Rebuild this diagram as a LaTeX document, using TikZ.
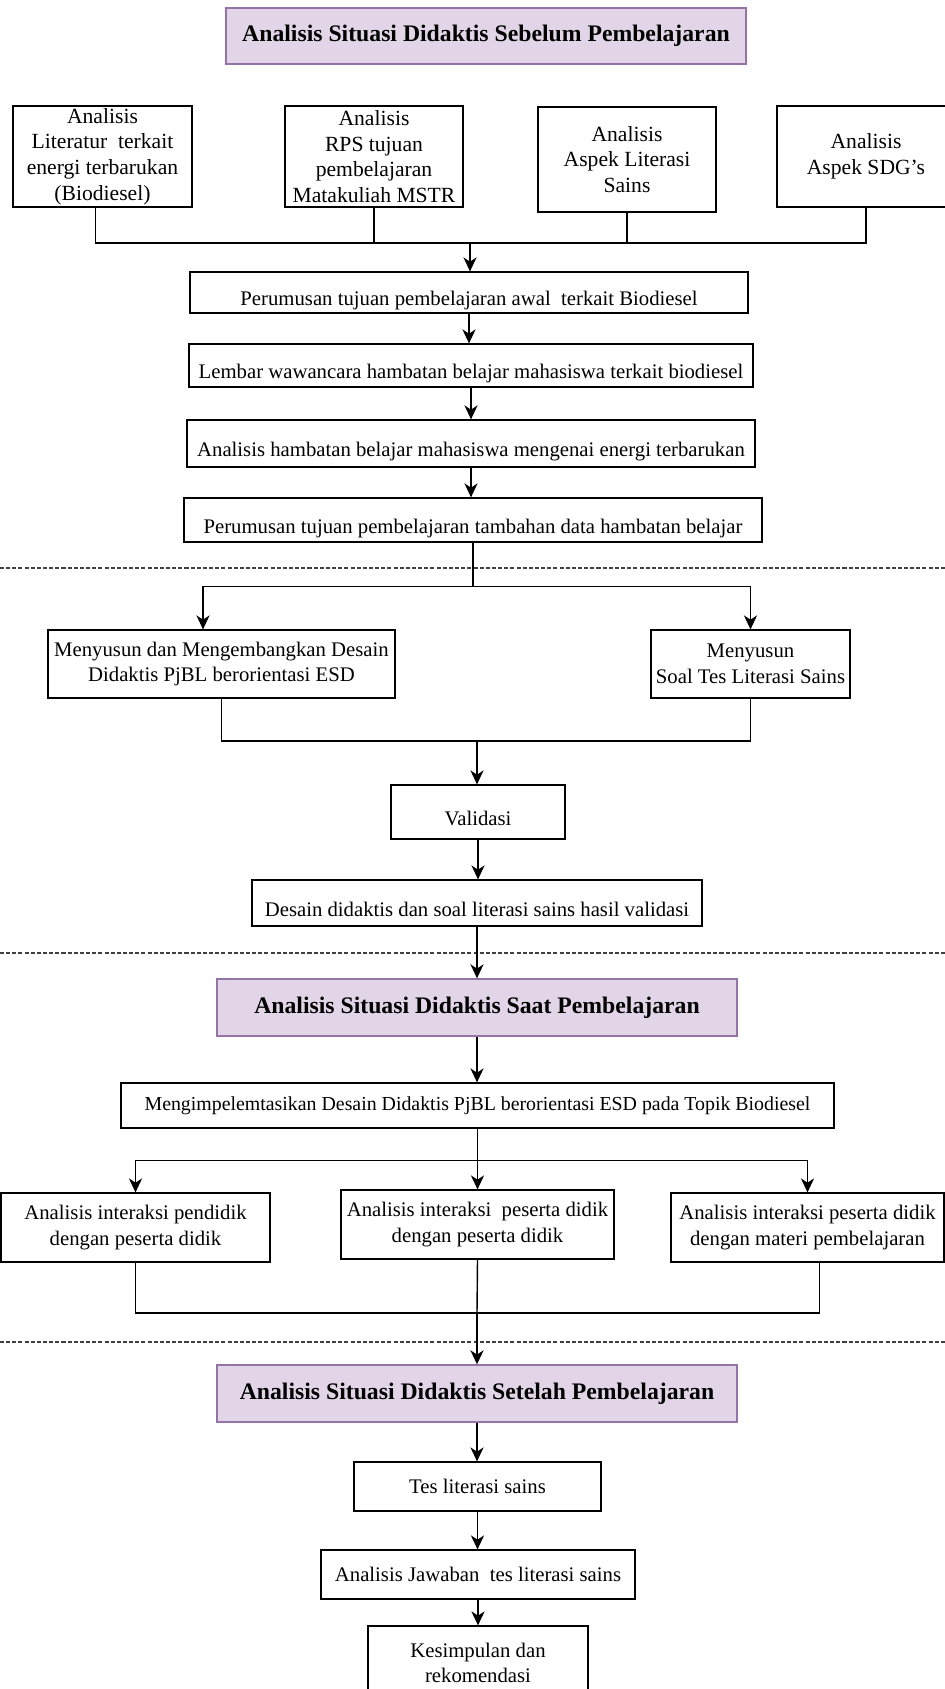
\documentclass[tikz,border=0pt]{standalone}
\usepackage{fontspec}
\setmainfont{Liberation Serif}
\usetikzlibrary{arrows.meta,calc}
\definecolor{titlefill}{HTML}{E1D5E7}
\definecolor{titleline}{HTML}{9673A6}
\tikzstyle{arrow} = [line width=0.8pt,-{Stealth[length=8pt,width=7.5pt,inset=2.5pt]}]
\tikzstyle{link} = [line width=0.8pt]
\tikzstyle{box} = [draw,line width=0.7pt,align=center,inner sep=1pt,font=\fontsize{11.8}{14.5}\selectfont]
\tikzstyle{lowtext} = [text height=17.5pt,text depth=2.6pt]
\tikzstyle{topbox} = [box,font=\fontsize{12.3}{14.6}\selectfont]
\tikzstyle{titlebox} = [draw=titleline,fill=titlefill,line width=0.8pt,inner sep=1pt,font=\fontsize{13.5}{16}\selectfont\bfseries]
\tikzstyle{divider} = [black!75,line width=0.7pt,dash pattern=on 2.3pt off 1.2pt]

\begin{document}
\begin{tikzpicture}[x=0.02cm,y=-0.02cm]
	\clip (0,0) rectangle (945,1689);

	% define constants
	\def \w {945}

	% before learning
	\node [titlebox,minimum width=10.4cm,minimum height=1.12cm] (t1) at (486,36) {Analisis Situasi Didaktis Sebelum Pembelajaran};

	\node [topbox,minimum width=3.58cm,minimum height=2.02cm] (a1) at (102.5,156.5) {Analisis\\Literatur~ terkait\\energi terbarukan\\(Biodiesel)};
	\node [topbox,minimum width=3.56cm,minimum height=2.02cm] (a2) at (374,156.5) {Analisis\\RPS tujuan\\pembelajaran\\Matakuliah MSTR};
	\node [topbox,minimum width=3.56cm,minimum height=2.10cm] (a3) at (627,159.5) {Analisis\\Aspek Literasi\\Sains};
	\node [topbox,minimum width=3.56cm,minimum height=2.02cm] (a4) at (866,156.5) {Analisis\\Aspek SDG’s};

	\node [box,lowtext,minimum width=11.16cm,minimum height=0.82cm] (p1) at (469,292.5) {Perumusan tujuan pembelajaran awal~ terkait Biodiesel};
	\node [box,lowtext,minimum width=11.28cm,minimum height=0.86cm] (p2) at (471,365.5) {Lembar wawancara hambatan belajar mahasiswa terkait biodiesel};
	\node [box,lowtext,minimum width=11.36cm,minimum height=0.94cm] (p3) at (471,443.5) {Analisis hambatan belajar mahasiswa mengenai energi terbarukan};
	\node [box,lowtext,minimum width=11.56cm,minimum height=0.88cm] (p4) at (473,520) {Perumusan tujuan pembelajaran tambahan data hambatan belajar};

	\coordinate (j1) at (470,243);
	\draw[link] ($(a1.south)+(-7,0)$) |- (j1);
	\foreach \n in {a2,a3,a4}
		\draw[link] (\n.south) |- (j1);
	\draw[arrow] (j1) -- (j1 |- p1.north);
	\draw[arrow] (p1) -- (p1 |- p2.north);
	\draw[arrow] (p2) -- (p2 |- p3.north);
	\draw[arrow] (p3) -- (p3 |- p4.north);

	\draw[divider] (0,568) -- (\w,568);

	% design and validation
	\node [box,minimum width=6.94cm,minimum height=1.36cm] (m1) at (221.5,664) {Menyusun dan Mengembangkan Desain\\Didaktis PjBL berorientasi ESD};
	\node [box,minimum width=3.98cm,minimum height=1.36cm] (m2) at (750.5,664) {Menyusun\\Soal Tes Literasi Sains};
	\draw[arrow] (p4.south) -- ++(0,44) -| ($(m1.north)+(-18.5,0)$);
	\draw[arrow] (p4.south) -- ++(0,44) -| (m2.north);

	\node [box,lowtext,minimum width=3.48cm,minimum height=1.08cm] (v) at (478,812) {Validasi};
	\node [box,lowtext,minimum width=9.0cm,minimum height=0.92cm] (ds) at (477,903) {Desain didaktis dan soal literasi sains hasil validasi};

	\coordinate (j2) at (477,741);
	\draw[link] (m1.south) |- (j2);
	\draw[link] (m2.south) |- (j2);
	\draw[arrow] (j2) -- (j2 |- v.north);
	\draw[arrow] (v) -- (v |- ds.north);

	\draw[divider] (0,953) -- (\w,953);

	% during learning
	\node [titlebox,minimum width=10.4cm,minimum height=1.14cm] (t2) at (477,1007.5) {Analisis Situasi Didaktis Saat Pembelajaran};
	\node [box,font=\fontsize{11.3}{14}\selectfont,minimum width=14.26cm,minimum height=0.9cm] (mi) at (477.5,1105.5) {Mengimpelemtasikan Desain Didaktis PjBL berorientasi ESD pada Topik Biodiesel};

	\node [box,minimum width=5.38cm,minimum height=1.38cm] (b1) at (135.5,1227.5) {Analisis interaksi pendidik\\dengan peserta didik};
	\node [box,minimum width=5.46cm,minimum height=1.38cm] (b2) at (477.5,1224.5) {Analisis interaksi~ peserta didik\\dengan peserta didik};
	\node [box,minimum width=5.46cm,minimum height=1.38cm] (b3) at (807.5,1227.5) {Analisis interaksi peserta didik\\dengan materi pembelajaran};

	\draw[arrow] (ds) -- (ds |- t2.north);
	\draw[arrow] (t2) -- (t2 |- mi.north);
	\draw[arrow] (mi.south) -- ++(0,32) -| (b1.north);
	\draw[arrow] (mi.south) -- ++(0,32) -| (b3.north);
	\draw[arrow] (mi.south) -- (mi.south |- b2.north);

	\coordinate (j3) at (477,1313);
	\draw[link] (b1.south) |- (j3);
	\draw[link] ($(b3.south)+(12,0)$) |- (j3);
	\draw[link] (b2.south) -- (j3);

	\draw[divider] (0,1342) -- (\w,1342);

	% after learning
	\node [titlebox,minimum width=10.4cm,minimum height=1.14cm] (t3) at (477,1393.5) {Analisis Situasi Didaktis Setelah Pembelajaran};
	\node [box,minimum width=4.94cm,minimum height=0.98cm] (tes) at (477.5,1486.5) {Tes literasi sains};
	\node [box,minimum width=6.28cm,minimum height=0.98cm] (aj) at (478,1574.5) {Analisis Jawaban~ tes literasi sains};
	\node [box,minimum width=4.4cm,minimum height=1.48cm] (ks) at (478,1663) {Kesimpulan dan\\rekomendasi};

	\draw[arrow] (j3) -- (j3 |- t3.north);
	\draw[arrow] (t3) -- (t3 |- tes.north);
	\draw[arrow] (tes) -- (tes |- aj.north);
	\draw[arrow] (aj) -- (aj |- ks.north);
\end{tikzpicture}
\end{document}
